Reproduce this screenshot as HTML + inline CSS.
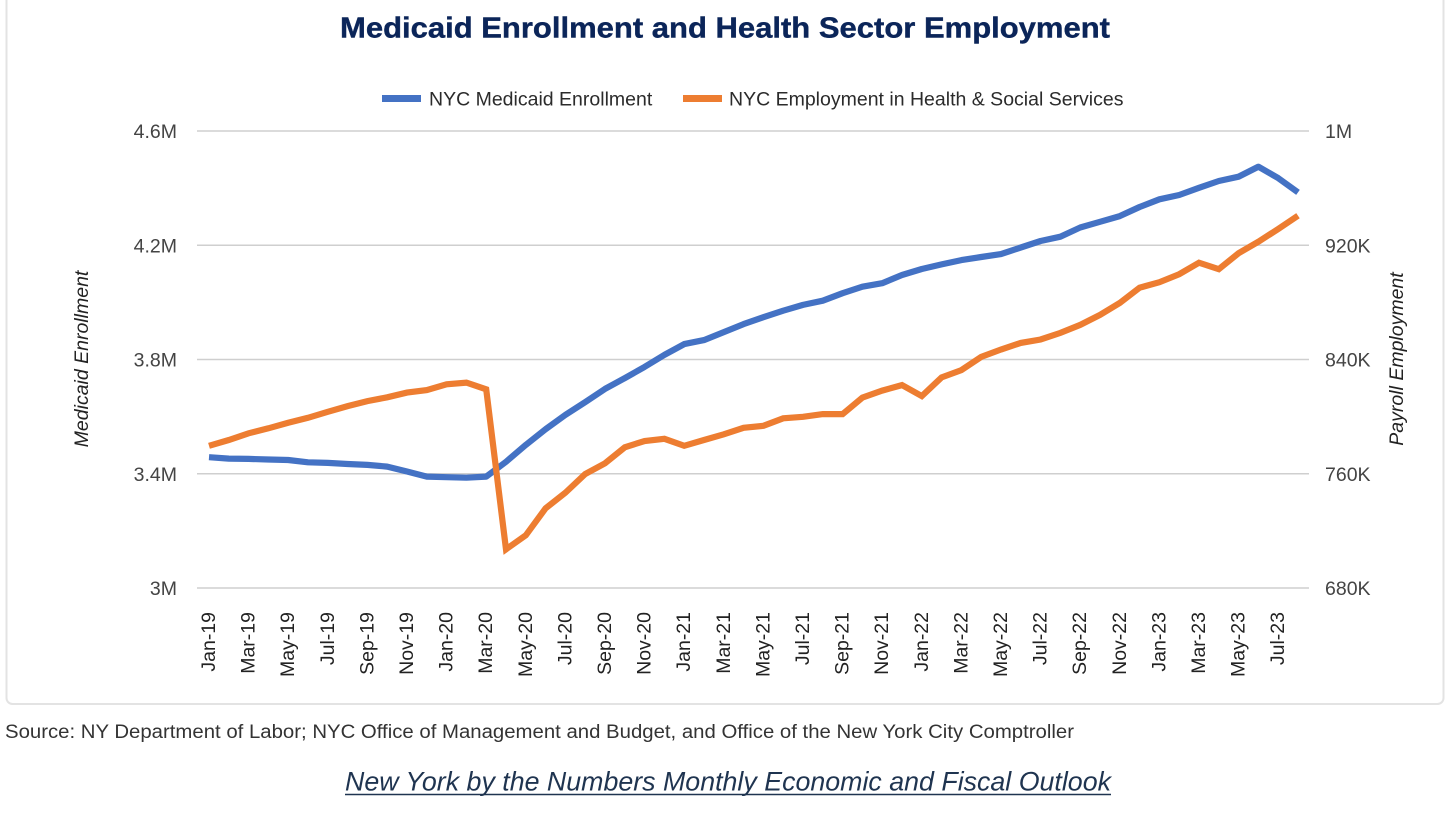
<!DOCTYPE html>
<html lang="en">
<head>
<meta charset="utf-8">
<title>Medicaid Enrollment and Health Sector Employment</title>
<style>
html,body{margin:0;padding:0;background:#fff;width:1456px;height:817px;overflow:hidden}
svg{display:block;font-family:"Liberation Sans",Arial,sans-serif}
</style>
</head>
<body>
<svg id="chart" width="1456" height="817" viewBox="0 0 1456 817" xmlns="http://www.w3.org/2000/svg">
  <rect x="6.5" y="-10" width="1437" height="714" rx="6" fill="#fff" stroke="#e3e3e3" stroke-width="2"/>
  <text x="340" y="37.5" font-size="28.5" font-weight="700" fill="#0b2559" stroke="#0b2559" stroke-width="0.4" textLength="770" lengthAdjust="spacingAndGlyphs">Medicaid Enrollment and Health Sector Employment</text>
  <g id="legend">
    <line x1="382" x2="421" y1="98.5" y2="98.5" stroke="#4472c4" stroke-width="7"/>
    <text x="429" y="105.5" font-size="19.5" fill="#2b2b2b">NYC Medicaid Enrollment</text>
    <line x1="683" x2="722" y1="98.5" y2="98.5" stroke="#ed7d31" stroke-width="7"/>
    <text x="729" y="105.5" font-size="19.5" fill="#2b2b2b">NYC Employment in Health &amp; Social Services</text>
  </g>
  <g id="grid"></g>
  <g id="left-axis"></g>
  <g id="right-axis"></g>
  <g id="x-axis"></g>
  <text transform="translate(88,359) rotate(-90)" text-anchor="middle" font-size="19.5" font-style="italic" fill="#222">Medicaid Enrollment</text>
  <text transform="translate(1403,359) rotate(-90)" text-anchor="middle" font-size="19.5" font-style="italic" fill="#222">Payroll Employment</text>
  <g id="series"></g>
  <text x="5" y="738" font-size="19.6" fill="#333" textLength="1069" lengthAdjust="spacingAndGlyphs">Source: NY Department of Labor; NYC Office of Management and Budget, and Office of the New York City Comptroller</text>
  <text x="345" y="790.5" font-size="26.5" font-style="italic" fill="#1f3450" textLength="766" lengthAdjust="spacingAndGlyphs">New York by the Numbers Monthly Economic and Fiscal Outlook</text>
  <line x1="345" x2="1111" y1="794.5" y2="794.5" stroke="#1f3450" stroke-width="1.6"/>
</svg>
<script>
const categories = ["Jan-19","Feb-19","Mar-19","Apr-19","May-19","Jun-19","Jul-19","Aug-19","Sep-19","Oct-19","Nov-19","Dec-19","Jan-20","Feb-20","Mar-20","Apr-20","May-20","Jun-20","Jul-20","Aug-20","Sep-20","Oct-20","Nov-20","Dec-20","Jan-21","Feb-21","Mar-21","Apr-21","May-21","Jun-21","Jul-21","Aug-21","Sep-21","Oct-21","Nov-21","Dec-21","Jan-22","Feb-22","Mar-22","Apr-22","May-22","Jun-22","Jul-22","Aug-22","Sep-22","Oct-22","Nov-22","Dec-22","Jan-23","Feb-23","Mar-23","Apr-23","May-23","Jun-23","Jul-23","Aug-23"];
// NYC Medicaid enrollment, thousands
const medicaidEnrollment = [3458,3453,3452,3450,3448,3440,3438,3434,3431,3425,3408,3390,3388,3386,3390,3442,3501,3556,3606,3651,3697,3735,3774,3816,3854,3868,3896,3924,3948,3971,3991,4006,4032,4055,4067,4096,4117,4133,4148,4159,4169,4192,4215,4230,4262,4282,4302,4334,4361,4376,4401,4425,4440,4475,4435,4385];
// NYC employment in health & social services, thousands
const healthEmployment = [779.6,783.6,788.3,791.8,795.7,799.2,803.4,807.4,810.9,813.5,816.8,818.6,822.6,823.8,819.1,707.1,716.9,735.8,746.7,759.8,767.3,778.5,782.9,784.5,779.6,783.6,787.6,792.2,793.6,798.8,799.9,801.8,801.8,813.3,818.2,822.1,814.4,827.5,832.6,841.8,847,851.6,854,858.6,864.2,871.2,879.6,890.3,894.1,899.7,907.8,903.2,914.4,922.5,931.4,940.7];
const leftTicks = [3000,3400,3800,4200,4600];
const leftTickLabels = ["3M","3.4M","3.8M","4.2M","4.6M"];
const rightTicks = [680,760,840,920,1000];
const rightTickLabels = ["680K","760K","840K","920K","1M"];
const xTickStep = 2;

const NS = "http://www.w3.org/2000/svg";
const plot = {x0:209, dx:19.8, top:131, bottom:588, left:197, right:1309};
const xScale = i => plot.x0 + i * plot.dx;
const linear = (d0, d1) => v => plot.bottom - (v - d0) / (d1 - d0) * (plot.bottom - plot.top);
const yLeft = linear(leftTicks[0], leftTicks[leftTicks.length - 1]);
const yRight = linear(rightTicks[0], rightTicks[rightTicks.length - 1]);

function make(tag, attrs, parent, txt) {
  const el = document.createElementNS(NS, tag);
  for (const k in attrs) el.setAttribute(k, attrs[k]);
  if (txt !== undefined) el.textContent = txt;
  parent.appendChild(el);
  return el;
}

const gridG = document.getElementById("grid");
const leftG = document.getElementById("left-axis");
const rightG = document.getElementById("right-axis");
const xG = document.getElementById("x-axis");
const seriesG = document.getElementById("series");

leftTicks.forEach((v, i) => {
  const y = yLeft(v);
  const g = make("line", {x1:plot.left, x2:plot.right, y1:y, y2:y, stroke:"#cfcfcf", "stroke-width":1.6}, gridG);
  
  
  const t = make("text", {x:177, y:y + 7, "text-anchor":"end", "font-size":19.5, fill:"#444"}, leftG, leftTickLabels[i]);
  
  
});

rightTicks.forEach((v, i) => {
  const t = make("text", {x:1325, y:yRight(v) + 7, "font-size":19.5, fill:"#444"}, rightG, rightTickLabels[i]);
  
  
});

categories.forEach((c, i) => {
  if (i % xTickStep !== 0) return;
  const t = make("text", {transform:"translate(" + (xScale(i) + 6) + ",612) rotate(-90)", "text-anchor":"end", "font-size":19.5, fill:"#222"}, xG, c);
  
  
});

function linePath(values, yScale) {
  return values.map((v, i) => (i ? "L" : "M") + xScale(i).toFixed(1) + " " + yScale(v).toFixed(1)).join(" ");
}

const blue = make("path", {d:linePath(medicaidEnrollment, yLeft), fill:"none", stroke:"#4472c4", "stroke-width":6.2, "stroke-linejoin":"round"}, seriesG);



const orange = make("path", {d:linePath(healthEmployment, yRight), fill:"none", stroke:"#ed7d31", "stroke-width":6.2, "stroke-linejoin":"miter"}, seriesG);


</script>
</body>
</html>
